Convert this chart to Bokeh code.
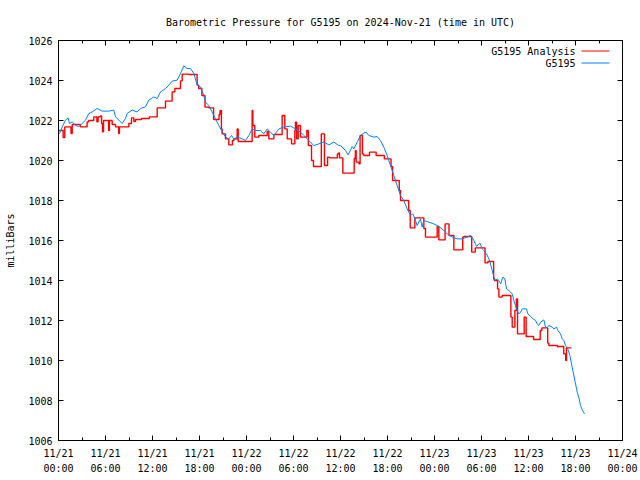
from bokeh.plotting import figure
from bokeh.models import Range1d, FixedTicker, LinearAxis, Label, Arrow
from bokeh.embed import file_html
from bokeh.resources import INLINE

# ---------------- data (hours since 2024-11-21 00:00 UTC) ----------------
title_text = "Barometric Pressure for G5195 on 2024-Nov-21 (time in UTC)"
y_label = "milliBars"
series_names = ["G5195 Analysis", "G5195"]

x_tick_hours = [0, 6, 12, 18, 24, 30, 36, 42, 48, 54, 60, 66, 72]
x_minor_hours = [3, 9, 15, 21, 27, 33, 39, 45, 51, 57, 63, 69]
x_tick_labels = ["11/21\n00:00", "11/21\n06:00", "11/21\n12:00", "11/21\n18:00",
                 "11/22\n00:00", "11/22\n06:00", "11/22\n12:00", "11/22\n18:00",
                 "11/23\n00:00", "11/23\n06:00", "11/23\n12:00", "11/23\n18:00",
                 "11/24\n00:00"]
y_ticks = [1006, 1008, 1010, 1012, 1014, 1016, 1018, 1020, 1022, 1024, 1026]

# G5195 observations (blue)
blue_t = [0.0, 0.13, 0.47, 0.89, 1.23, 1.40, 1.74, 2.17, 2.6, 2.81, 3.45, 3.87, 4.3, 4.94,
          5.57, 6.43, 7.06, 7.28, 7.7, 8.13, 8.55, 8.76, 9.4, 10.04, 10.47, 11.1, 11.53,
          12.17, 12.6, 13.02, 13.66, 14.08, 14.51, 15.15, 15.57, 16.0, 16.42, 16.85, 17.28,
          17.7, 18.13, 18.55, 18.77, 19.19, 19.62, 20.04, 20.47, 20.89, 21.32, 21.74, 22.09,
          22.38, 22.81, 23.45, 23.87, 24.3, 24.72, 25.15, 25.79, 26.21, 26.64, 27.06, 27.49,
          28.13, 28.77, 29.62, 30.25, 30.89, 31.32, 31.96, 32.6, 33.23, 33.87, 34.51, 35.15,
          35.79, 36.0, 36.64, 36.98, 37.49, 37.7, 38.13, 38.55, 38.98, 39.27, 39.62, 40.25,
          40.68, 41.1, 41.53, 41.96, 42.38, 42.81, 43.23, 43.66, 44.08, 44.51, 44.93, 45.23,
          45.57, 45.78, 46.21, 46.42, 46.64, 47.27, 47.91, 48.34, 48.98, 49.61, 50.25, 50.89,
          51.53, 52.17, 52.6, 53.03, 53.37, 53.66, 53.79, 54.09, 54.3, 54.64, 54.94, 55.15,
          55.37, 55.58, 55.79, 56.0, 56.22, 56.43, 56.73, 56.98, 57.2, 57.49, 57.71, 57.92,
          58.13, 58.34, 58.56, 58.77, 58.98, 59.2, 59.41, 59.75, 59.92, 60.26, 60.6, 60.9,
          61.11, 61.32, 61.54, 61.96, 62.17, 62.39, 62.6, 63.02, 63.24, 63.58, 63.75, 64.09,
          64.3, 64.51, 64.73, 65.02, 65.28, 65.49, 65.71, 65.96, 66.22, 66.47, 66.64, 66.9,
          67.15]
blue_v = [1021.3, 1021.35, 1021.68, 1022.02, 1022.13, 1021.85, 1021.93, 1021.77, 1021.68,
          1021.77, 1022.02, 1022.35, 1022.43, 1022.6, 1022.47, 1022.47, 1022.52, 1022.18,
          1022.02, 1021.85, 1022.1, 1022.35, 1022.52, 1022.43, 1022.6, 1022.68, 1023.02,
          1023.18, 1023.1, 1023.43, 1023.6, 1023.77, 1023.97, 1024.02, 1024.35, 1024.73,
          1024.6, 1024.6, 1024.35, 1023.77, 1023.68, 1023.25, 1022.92, 1022.75, 1022.42,
          1022.08, 1021.75, 1021.45, 1021.17, 1021.08, 1021.25, 1021.08, 1021.17, 1021.08,
          1021.0, 1021.25, 1021.58, 1021.5, 1021.5, 1021.33, 1021.58, 1021.42, 1021.25,
          1021.58, 1021.67, 1021.72, 1021.58, 1021.42, 1021.25, 1021.0, 1020.75, 1020.83,
          1020.92, 1020.78, 1020.92, 1020.75, 1020.75, 1020.5, 1020.28, 1020.7, 1020.58,
          1020.92, 1021.25, 1021.37, 1021.42, 1021.25, 1021.17, 1021.2, 1021.0, 1020.67,
          1020.25, 1019.75, 1019.25, 1018.75, 1018.25, 1018.0, 1017.58, 1017.25, 1017.33,
          1017.0, 1016.75, 1017.08, 1016.67, 1017.0, 1016.92, 1016.83, 1016.75, 1016.58,
          1016.33, 1016.17, 1016.08, 1016.08, 1016.17, 1016.25, 1016.0, 1015.7, 1015.83,
          1015.87, 1015.58, 1015.5, 1015.33, 1015.08, 1014.83, 1014.5, 1014.17, 1014.0,
          1014.08, 1014.0, 1013.83, 1014.17, 1014.08, 1013.58, 1013.5, 1013.42, 1013.33,
          1013.0, 1012.75, 1012.5, 1012.33, 1012.42, 1012.58, 1012.58, 1012.58, 1012.33,
          1012.2, 1012.08, 1012.0, 1011.83, 1011.75, 1011.92, 1012.03, 1011.67, 1011.63,
          1011.75, 1011.67, 1011.58, 1011.67, 1011.5, 1011.33, 1011.08, 1011.0, 1010.75,
          1010.58, 1010.25, 1009.83, 1009.42, 1008.92, 1008.42, 1008.08, 1007.75, 1007.5,
          1007.33]

# G5195 Analysis (red), value holds from each time until the next
red_t = [0.0, 0.6, 0.8, 1.6, 1.75, 2.8, 3.65, 3.85, 4.5, 4.9, 5.05, 5.35, 5.5, 5.62, 5.75,
         6.4, 6.5, 6.85, 7.28, 7.68, 7.78, 8.98, 9.32, 9.62, 9.83, 10.6, 11.6, 12.6, 13.66,
         14.51, 14.85, 15.57, 15.79, 16.64, 17.7, 17.9, 18.3, 18.7, 19.2, 19.8, 20.5, 20.62,
         20.8, 20.89, 21.32, 21.74, 22.2, 22.38, 22.81, 22.94, 24.72, 24.81, 25.06, 25.57,
         26.64, 26.85, 27.49, 28.55, 28.89, 29.2, 29.75, 30.17, 30.25, 30.4, 30.6, 30.89,
         31.7, 31.9, 32.3, 32.55, 33.55, 33.95, 34.35, 34.6, 35.6, 35.75, 35.87, 36.3, 37.75,
         37.9, 38.0, 38.35, 38.5, 38.8, 38.98, 39.7, 40.55, 41.6, 42.45, 42.65, 43.5, 43.66,
         44.7, 44.9, 45.49, 46.64, 46.85, 48.34, 48.55, 49.35, 49.85, 50.47, 51.6, 51.74,
         52.75, 53.2, 54.45, 54.81, 55.55, 55.66, 56.05, 56.22, 56.64, 57.75, 57.92, 58.26,
         58.45, 58.6, 59.45, 59.7, 60.65, 61.5, 61.7, 62.45, 62.6, 63.7, 63.8, 64.5, 64.75,
         64.85, 65.45]
red_v = [1021.5, 1021.15, 1021.68, 1021.35, 1021.8, 1021.68, 1021.93, 1022.0, 1022.18,
         1021.93, 1022.18, 1022.23, 1021.85, 1021.43, 1022.0, 1021.5, 1022.0, 1021.8,
         1021.68, 1021.35, 1021.68, 1021.85, 1022.13, 1021.95, 1022.05, 1022.1, 1022.18,
         1022.63, 1022.97, 1023.43, 1023.6, 1023.98, 1024.32, 1024.3, 1023.77, 1023.6,
         1023.25, 1022.67, 1022.63, 1022.05, 1022.3, 1022.5, 1021.58, 1021.33, 1021.08,
         1020.78, 1021.0, 1021.08, 1021.58, 1020.95, 1022.5, 1021.75, 1021.17, 1021.25,
         1021.45, 1021.08, 1021.3, 1022.25, 1021.58, 1021.08, 1020.83, 1021.5, 1021.92,
         1021.08, 1021.75, 1021.17, 1021.5, 1020.75, 1020.0, 1019.7, 1021.33, 1019.75,
         1020.17, 1020.13, 1020.33, 1020.38, 1020.13, 1019.37, 1020.1, 1020.5, 1019.92,
         1019.83, 1021.25, 1020.33, 1020.25, 1020.42, 1020.25, 1020.08, 1019.7, 1019.0,
         1018.5, 1018.0, 1017.5, 1016.63, 1017.13, 1016.6, 1016.17, 1016.7, 1016.03,
         1016.83, 1016.25, 1015.53, 1016.17, 1016.2, 1015.42, 1015.63, 1014.88, 1014.95,
         1014.08, 1014.0, 1013.58, 1013.17, 1013.25, 1012.17, 1011.67, 1012.5, 1013.08,
         1011.33, 1012.17, 1011.2, 1011.05, 1011.5, 1011.63, 1010.87, 1010.75, 1010.68,
         1010.7, 1010.33, 1010.0, 1010.63, 1010.63]

RED = "#ff0000"
BLUE = "#0080ff"
FONT = "DejaVu Sans Mono"
FS = "10px"

p = figure(width=640, height=480, x_range=Range1d(0, 72), y_range=Range1d(1006, 1026),
           output_backend="svg", toolbar_location=None, title=title_text,
           min_border_left=58, min_border_right=18, min_border_top=40, min_border_bottom=40)

p.title.text_font = FONT
p.title.text_font_size = FS
p.title.text_font_style = "normal"
p.title.align = "center"
p.title.text_color = "black"
p.title.standoff = 25

p.xgrid.visible = False
p.ygrid.visible = False
p.outline_line_color = "black"
p.outline_line_alpha = 1.0
p.background_fill_color = "white"
p.border_fill_color = "white"

xticker = FixedTicker(ticks=x_tick_hours, minor_ticks=x_minor_hours)
yticker = FixedTicker(ticks=y_ticks)

for ax in p.xaxis:
    ax.ticker = xticker
    ax.major_label_overrides = {h: lab for h, lab in zip(x_tick_hours, x_tick_labels)}
    ax.major_label_standoff = 7
    ax.major_label_text_line_height = 1.45
for ax in p.yaxis:
    ax.ticker = yticker
    ax.axis_label = y_label
    ax.axis_label_text_font = FONT
    ax.axis_label_text_font_size = FS
    ax.axis_label_text_font_style = "normal"
    ax.axis_label_text_color = "black"
    ax.axis_label_standoff = 9
    ax.major_label_standoff = 6

for ax in list(p.xaxis) + list(p.yaxis):
    ax.major_label_text_font = FONT
    ax.major_label_text_font_size = FS
    ax.major_label_text_color = "black"
    ax.major_tick_in = 5
    ax.major_tick_out = 0
    ax.minor_tick_in = 3
    ax.minor_tick_out = 0
    ax.axis_line_color = "black"
    ax.major_tick_line_color = "black"
    ax.minor_tick_line_color = "black"

top = LinearAxis(ticker=xticker, major_label_text_font_size="0px", major_tick_in=5,
                 major_tick_out=0, minor_tick_in=3, minor_tick_out=0, major_label_standoff=0,
                 major_label_overrides={h: "" for h in x_tick_hours})
right = LinearAxis(ticker=yticker, major_label_text_font_size="0px", major_tick_in=5,
                   major_tick_out=0, minor_tick_in=0, minor_tick_out=0, major_label_standoff=0,
                   major_label_overrides={v: "" for v in y_ticks})
p.add_layout(top, "above")
p.add_layout(right, "right")

p.step(red_t, red_v, mode="after", line_color=RED, line_width=1.4)
p.line(blue_t, blue_v, line_color=BLUE, line_width=1)

# legend in gnuplot style: text then line sample
p.add_layout(Label(x=66.0, y=1025.475, text=series_names[0], text_align="right",
                   text_baseline="middle", text_font=FONT, text_font_size=FS,
                   text_color="black"))
p.add_layout(Label(x=66.0, y=1024.875, text=series_names[1], text_align="right",
                   text_baseline="middle", text_font=FONT, text_font_size=FS,
                   text_color="black"))
p.add_layout(Arrow(end=None, x_start=66.77, y_start=1025.475, x_end=70.34, y_end=1025.475,
                   line_color=RED, line_width=1))
p.add_layout(Arrow(end=None, x_start=66.77, y_start=1024.875, x_end=70.34, y_end=1024.875,
                   line_color=BLUE, line_width=1))

open("out.html", "w").write(file_html(p, INLINE))
